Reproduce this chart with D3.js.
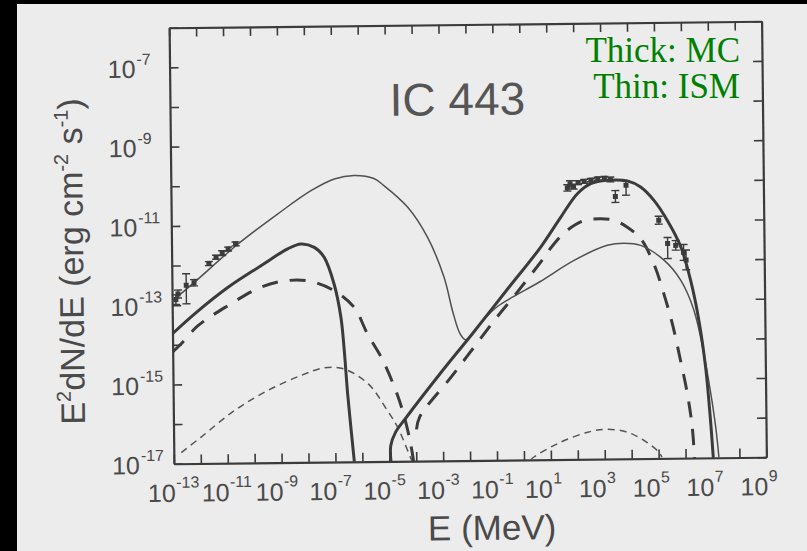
<!DOCTYPE html>
<html>
<head>
<meta charset="utf-8">
<script src="https://cdn.jsdelivr.net/npm/d3@7"></script>
<style>
  body { margin: 0; background: #000; }
</style>
</head>
<body>
<div id="chart"></div>
<script>
// all values are log10 of E (MeV) and log10 of E^2 dN/dE (erg cm^-2 s^-1)
var xTickExps = d3.range(-13, 10);
var yTickExps = d3.range(-17, -5);
var xLabelExps = [-13, -11, -9, -7, -5, -3, -1, 1, 3, 5, 7, 9];
var yLabelExps = [-17, -15, -13, -11, -9, -7];

// thin solid: ISM total
var thinSolid = [
  [-13, -12.9], [-12.17, -12.43], [-10.54, -11.48], [-9.05, -10.73], [-7.8, -10.15],
  [-6.93, -9.86], [-6.19, -9.78], [-5.46, -9.86], [-5.09, -10.04], [-4.22, -10.59],
  [-3.49, -11.36], [-2.9, -12.36], [-2.57, -13.28], [-2.33, -13.79], [-2.13, -13.95],
  [-1.95, -13.88], [-1.7, -13.66], [-1.33, -13.37], [-0.9, -13.11], [-0.33, -12.88],
  [0.66, -12.51], [1.94, -11.98], [3.18, -11.61], [3.8, -11.56], [4.42, -11.62],
  [5.28, -12.0], [5.89, -12.51], [6.37, -13.27], [6.72, -14.37], [6.96, -15.37],
  [7.13, -16.22], [7.24, -17]
];

// thick solid: MC total (synchrotron part and gamma part)
var thickSolidLow = [
  [-13, -13.72], [-12.18, -13.23], [-10.93, -12.57], [-9.69, -12.03], [-8.69, -11.61],
  [-8.19, -11.49], [-7.7, -11.58], [-7.34, -11.83], [-6.98, -12.51], [-6.74, -13.35],
  [-6.63, -14.18], [-6.52, -15.29], [-6.3, -17]
];
var thickSolidHigh = [
  [-4.94, -17], [-4.94, -16.6], [-4.76, -16.27], [-4.37, -15.91], [-3.09, -14.81],
  [-1.85, -13.79], [-0.57, -12.71], [0.68, -11.66], [1.46, -10.89], [2.09, -10.3],
  [2.59, -10.05], [3.21, -9.97], [3.95, -9.99], [4.44, -10.15], [4.93, -10.49],
  [5.42, -11.0], [5.91, -11.67], [6.26, -12.52], [6.55, -13.53], [6.78, -14.71],
  [6.94, -16.05], [7.03, -17]
];

// thick dashed
var thickDashLow = [
  [-13, -14.18], [-12.69, -13.98], [-12.06, -13.53], [-10.94, -13.03], [-9.7, -12.57],
  [-8.7, -12.41], [-7.84, -12.44], [-6.98, -12.68], [-6.25, -13.1], [-5.76, -13.78],
  [-5.26, -14.37], [-4.83, -15.04], [-4.49, -15.72], [-4.22, -16.5], [-4.1, -17]
];
var thickDashHigh = [
  [-3.98, -16.2], [-3.85, -15.88], [-2.66, -14.88], [-1.84, -14.17], [-1.03, -13.46],
  [-0.21, -12.79], [0.67, -12.04], [1.2, -11.56], [1.7, -11.22], [2.32, -10.98],
  [2.95, -10.94], [3.44, -10.98], [3.93, -11.16], [4.42, -11.45], [4.9, -12.09],
  [5.26, -12.85], [5.56, -13.6], [5.85, -14.53], [6.09, -15.37], [6.26, -16.22],
  [6.33, -17]
];

// thin dashed
var thinDashLow = [
  [-12.72, -16.72], [-11.99, -16.34], [-10.74, -15.68], [-9.49, -15.18], [-8.25, -14.81],
  [-7.37, -14.62], [-6.63, -14.66], [-5.75, -15.04], [-5.05, -15.72], [-4.68, -16.14],
  [-4.21, -16.91], [-4.15, -17]
];
var thinDashHigh = [
  [0.25, -17], [0.37, -16.93], [1.25, -16.6], [2.37, -16.32], [3.11, -16.25],
  [3.85, -16.33], [4.46, -16.54], [5.01, -16.84], [5.12, -16.97]
];

// observed points: [logE, logF, error down, error up]
var radioPts = [
  [-12.86, -12.86, 0.12, 0.12], [-12.78, -12.72, 0.1, 0.1], [-12.47, -12.5, 0.47, 0.29],
  [-12.18, -12.44, 0.08, 0.08], [-11.62, -11.96, 0.05, 0.05], [-11.35, -11.8, 0.05, 0.05],
  [-11.12, -11.7, 0.06, 0.06], [-10.9, -11.6, 0.05, 0.05], [-10.62, -11.47, 0.05, 0.05]
];
var gammaPts = [
  [1.72, -10.15, 0.08, 0.08], [1.82, -10.05, 0.08, 0.08], [1.95, -10.12, 0.06, 0.06],
  [2.12, -10.02, 0.05, 0.05], [2.35, -9.99, 0.05, 0.05], [2.6, -9.96, 0.04, 0.04],
  [2.85, -9.93, 0.04, 0.04], [3.1, -9.92, 0.05, 0.05], [3.32, -9.95, 0.06, 0.06],
  [3.5, -10.38, 0.15, 0.15], [3.9, -10.1, 0.25, 0.1]
];
var tevPts = [
  [5.1, -10.99, 0.1, 0.1], [5.42, -11.58, 0.38, 0.15], [5.72, -11.63, 0.12, 0.12],
  [6.01, -11.81, 0.2, 0.2], [6.1, -12.0, 0.25, 0.25]
];

var width = 807, height = 551;
var margin = { left: 171.5, right: 764, top: 24.5, bottom: 460.5 };
var ink = "#3b3b3b";
var sans = "'Liberation Sans', Arial, sans-serif";

var svg = d3.select("#chart").append("svg")
  .attr("width", width)
  .attr("height", height);

svg.append("rect").attr("width", width).attr("height", height).attr("fill", "#000");
svg.append("rect")
  .attr("x", 17).attr("y", 4)
  .attr("width", width - 17).attr("height", height - 4)
  .attr("fill", "#ececec");

// the scanned page is slightly tilted
var page = svg.append("g")
  .attr("transform", "rotate(-0.63, 467.8, 242.5)");

var x = d3.scaleLog().domain([1e-13, 1e9]).range([margin.left, margin.right]);
var y = d3.scaleLog().domain([1e-17, 1e-6]).range([margin.bottom, margin.top]);
var px = d => x(Math.pow(10, d));
var py = d => y(Math.pow(10, d));

// axes (ticks pointing inward)
var xVals = xTickExps.map(e => Math.pow(10, e));
var yVals = yTickExps.map(e => Math.pow(10, e));

function styleAxis(sel) {
  sel.select(".domain").attr("stroke", ink).attr("stroke-width", 2.2);
  sel.selectAll(".tick line").attr("stroke", ink).attr("stroke-width", 1.6);
}

page.append("g")
  .attr("transform", "translate(0," + margin.bottom + ")")
  .call(d3.axisBottom(x).tickValues(xVals).tickSize(-9).tickSizeOuter(0).tickFormat(""))
  .call(styleAxis);
page.append("g")
  .attr("transform", "translate(0," + margin.top + ")")
  .call(d3.axisTop(x).tickValues(xVals).tickSize(-9).tickSizeOuter(0).tickFormat(""))
  .call(styleAxis);
page.append("g")
  .attr("transform", "translate(" + margin.left + ",0)")
  .call(d3.axisLeft(y).tickValues(yVals).tickSize(-9).tickSizeOuter(0).tickFormat(""))
  .call(styleAxis);
page.append("g")
  .attr("transform", "translate(" + margin.right + ",0)")
  .call(d3.axisRight(y).tickValues(yVals).tickSize(-9).tickSizeOuter(0).tickFormat(""))
  .call(styleAxis);

// tick labels: "10" with a raised exponent
var labelColor = "#4a4a4a";
xLabelExps.forEach(e => {
  var tx = px(e);
  page.append("text")
    .attr("x", tx + 1.5).attr("y", margin.bottom + 38)
    .attr("text-anchor", "end")
    .attr("font-family", sans).attr("font-size", 25)
    .attr("fill", labelColor)
    .text("10");
  page.append("text")
    .attr("x", tx + 2).attr("y", margin.bottom + 24)
    .attr("font-family", sans).attr("font-size", 16)
    .attr("fill", labelColor)
    .text(e < 0 ? "-" + (-e) : String(e));
});
yLabelExps.forEach(e => {
  var ty = py(e);
  page.append("text")
    .attr("x", margin.left - 34).attr("y", ty + 10)
    .attr("text-anchor", "end")
    .attr("font-family", sans).attr("font-size", 25)
    .attr("fill", labelColor)
    .text("10");
  page.append("text")
    .attr("x", margin.left - 33).attr("y", ty - 3)
    .attr("font-family", sans).attr("font-size", 16)
    .attr("fill", labelColor)
    .text("-" + (-e));
});

// axis titles
page.append("text")
  .attr("x", 489).attr("y", 540)
  .attr("text-anchor", "middle")
  .attr("font-family", sans).attr("font-size", 35)
  .attr("fill", labelColor)
  .text("E (MeV)");

var yTitle = page.append("text")
  .attr("transform", "translate(83,257) rotate(-90)")
  .attr("text-anchor", "middle")
  .attr("font-family", sans).attr("font-size", 34)
  .attr("fill", labelColor);
yTitle.append("tspan").text("E");
yTitle.append("tspan").attr("font-size", 20).attr("dy", -14).text("2");
yTitle.append("tspan").attr("dy", 14).text("dN/dE (erg cm");
yTitle.append("tspan").attr("font-size", 20).attr("dy", -14).text("-2");
yTitle.append("tspan").attr("dy", 14).text(" s");
yTitle.append("tspan").attr("font-size", 20).attr("dy", -14).text("-1");
yTitle.append("tspan").attr("dy", 14).text(")");

page.append("text")
  .attr("x", 459).attr("y", 115)
  .attr("text-anchor", "middle")
  .attr("font-family", sans).attr("font-size", 46)
  .attr("fill", "#555")
  .text("IC 443");

// model curves
page.append("clipPath").attr("id", "plotClip")
  .append("rect")
  .attr("x", margin.left).attr("y", margin.top)
  .attr("width", margin.right - margin.left).attr("height", margin.bottom - margin.top);

var curves = page.append("g").attr("clip-path", "url(#plotClip)");

var line = d3.line()
  .x(d => px(d[0]))
  .y(d => py(d[1]))
  .curve(d3.curveCatmullRom.alpha(0.5));

function drawCurve(data, w, dash, color) {
  curves.append("path")
    .datum(data)
    .attr("d", line)
    .attr("fill", "none")
    .attr("stroke", color)
    .attr("stroke-width", w)
    .attr("stroke-dasharray", dash)
    .attr("stroke-linejoin", "round");
}

drawCurve(thinDashLow, 1.5, "7,5", "#555");
drawCurve(thinDashHigh, 1.5, "7,5", "#555");
drawCurve(thickDashLow, 3, "16,12", ink);
drawCurve(thickDashHigh, 3, "16,12", ink);
drawCurve(thinSolid, 1.5, null, "#505050");
drawCurve(thickSolidLow, 3, null, ink);
drawCurve(thickSolidHigh, 3, null, ink);

// data points with error bars
var pts = page.append("g");
function drawPoints(data, size) {
  var g = pts.selectAll(null).data(data).enter().append("g");
  g.append("line")
    .attr("x1", d => px(d[0])).attr("x2", d => px(d[0]))
    .attr("y1", d => py(d[1] - d[2])).attr("y2", d => py(d[1] + d[3]))
    .attr("stroke", ink).attr("stroke-width", 1.4);
  g.append("line")
    .attr("x1", d => px(d[0]) - 4).attr("x2", d => px(d[0]) + 4)
    .attr("y1", d => py(d[1] - d[2])).attr("y2", d => py(d[1] - d[2]))
    .attr("stroke", ink).attr("stroke-width", 1.4);
  g.append("line")
    .attr("x1", d => px(d[0]) - 4).attr("x2", d => px(d[0]) + 4)
    .attr("y1", d => py(d[1] + d[3])).attr("y2", d => py(d[1] + d[3]))
    .attr("stroke", ink).attr("stroke-width", 1.4);
  g.append("rect")
    .attr("x", d => px(d[0]) - size / 2).attr("y", d => py(d[1]) - size / 2)
    .attr("width", size).attr("height", size)
    .attr("fill", ink);
}
drawPoints(radioPts, 5);
drawPoints(gammaPts, 5);
drawPoints(tevPts, 5);

// annotation added on top of the scan
var note = svg.append("g")
  .attr("font-family", "'Liberation Serif', 'Times New Roman', serif")
  .attr("font-size", 35)
  .attr("fill", "#008000")
  .attr("text-anchor", "end");
note.append("text").attr("x", 740).attr("y", 62).text("Thick: MC");
note.append("text").attr("x", 740).attr("y", 98).text("Thin: ISM");
</script>
</body>
</html>
